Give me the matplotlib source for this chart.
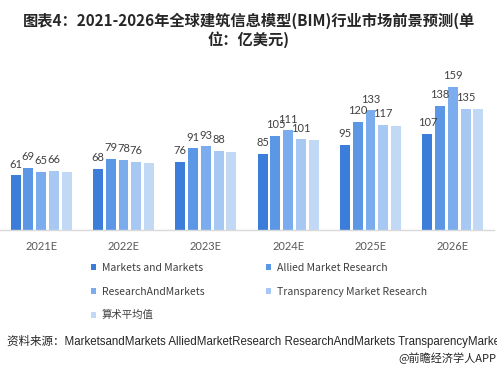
import matplotlib
matplotlib.use("Agg")
import matplotlib.pyplot as plt
import numpy as np

plt.rcParams['font.family'] = ['Noto Sans CJK SC', 'DejaVu Sans']

categories = ["2021E", "2022E", "2023E", "2024E", "2025E", "2026E"]
series_names = ["Markets and Markets", "Allied Market Research",
                "ResearchAndMarkets", "Transparency Market Research", "算术平均值"]
markets_and_markets = [61, 68, 76, 85, 95, 107]
allied = [69, 79, 91, 105, 120, 138]
research_and_markets = [65, 78, 93, 111, 133, 159]
transparency = [66, 76, 88, 101, 117, 135]
average = [65, 75, 87, 100, 116, 134]
series = [markets_and_markets, allied, research_and_markets, transparency, average]
show_labels = [True, True, True, True, False]
colors = ["#3b7dd8", "#5b97e4", "#7badee", "#a6c8f2", "#c2d9f6"]

W, H = 497, 372
fig = plt.figure(figsize=(W / 100, H / 100), dpi=100)
fig.patch.set_facecolor("white")

ax = fig.add_axes([0 / W, (H - 230) / H, 494 / W, 170 / H])
ax.set_xlim(-0.5, len(categories) - 0.5)
ax.set_ylim(0, 170 / 0.9)

x = np.arange(len(categories))
bw = 10 / 82.4
step = 12.75 / 82.4
offsets = (np.arange(5) - 2) * step

handles = []
for i, (vals, c) in enumerate(zip(series, colors)):
    bars = ax.bar(x + offsets[i], vals, width=bw, color=c, label=series_names[i], zorder=2)
    handles.append(bars)
    if show_labels[i]:
        for xi, v in zip(x + offsets[i], vals):
            ax.annotate(str(v), (xi, v), xytext=(0, 4), textcoords="offset points",
                        ha="center", va="bottom", fontsize=8, color="#404040",
                        family=["Lato", "DejaVu Sans"])

for s in ["top", "right", "left"]:
    ax.spines[s].set_visible(False)
ax.spines["bottom"].set_color("#d9d9d9")
ax.spines["bottom"].set_linewidth(1.0)
ax.set_yticks([])
ax.set_xticks(x)
ax.set_xticklabels(categories, fontsize=8, color="#595959", family=["Lato", "DejaVu Sans"])
ax.tick_params(axis="x", length=0, pad=8)
ax.set_facecolor("none")

fig.text(0.5, (H - 21) / H, "图表4：2021-2026年全球建筑信息模型(BIM)行业市场前景预测(单",
         ha="center", va="center", fontsize=11, fontweight="bold", color="#262626")
fig.text(0.5, (H - 40) / H, "位：亿美元)",
         ha="center", va="center", fontsize=11, fontweight="bold", color="#262626")

order = [0, 2, 4, 1, 3]
leg = fig.legend([handles[k] for k in order], [series_names[k] for k in order],
                 ncol=2, loc="upper left", bbox_to_anchor=(91 / W, (H - 263) / H),
                 frameon=False, fontsize=7.5, handlelength=0.5, handleheight=0.5,
                 handletextpad=0.55, columnspacing=5.9, labelspacing=1.3,
                 borderaxespad=0, borderpad=0)
for t in leg.get_texts():
    t.set_color("#404040")

fig.text(7 / W, (H - 341) / H,
         "资料来源：MarketsandMarkets AlliedMarketResearch ResearchAndMarkets TransparencyMarketResearch",
         ha="left", va="center", fontsize=8.3, color="#262626",
         family=["Liberation Sans", "Noto Sans CJK SC"])
fig.text(496 / W, (H - 358) / H, "@前瞻经济学人APP",
         ha="right", va="center", fontsize=8, color="#262626")

fig.savefig("out.png", dpi=100, facecolor="white")
